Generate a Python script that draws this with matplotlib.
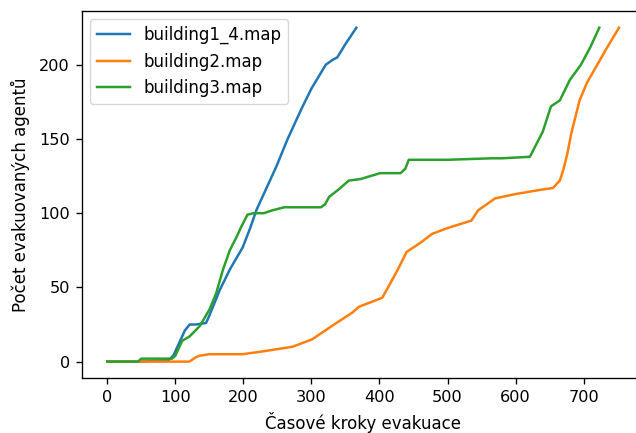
import matplotlib
matplotlib.use("Agg")
import matplotlib.pyplot as plt

# building1_4.map
b1_x = [0, 50, 90, 97, 105, 114, 121, 130, 145, 150, 165, 180, 199, 210, 219,
        233, 248, 265, 285, 300, 321, 330, 338, 350, 366]
b1_y = [0, 0, 1, 4, 12, 21, 25, 25, 26, 31, 48, 62, 77, 90, 102,
        116, 131, 150, 170, 184, 200, 203, 205, 214, 225]

# building2.map
b2_x = [0, 120, 124, 130, 136, 150, 199, 230, 272, 301, 330, 360, 370, 404, 415,
        428, 440, 460, 477, 500, 535, 545, 570, 601, 640, 655, 665, 670, 676, 682,
        694, 705, 720, 735, 752]
b2_y = [0, 0, 1, 3, 4, 5, 5, 7, 10, 15, 24, 33, 37, 43, 52,
        63, 74, 80, 86, 90, 95, 102, 110, 113, 116, 117, 122, 129, 140, 154,
        176, 188, 200, 212, 225]

# building3.map
b3_x = [0, 45, 50, 95, 100, 104, 110, 121, 136, 150, 160, 170, 180, 190, 197,
        206, 215, 230, 243, 260, 282, 314, 320, 326, 340, 355, 372, 401, 431, 438,
        443, 500, 565, 580, 621, 640, 652, 665, 680, 696, 710, 723]
b3_y = [0, 0, 2, 2, 4, 8, 14, 17, 24, 35, 46, 62, 75, 84, 91,
        99, 100, 100, 102, 104, 104, 104, 106, 111, 116, 122, 123, 127, 127, 130,
        136, 136, 137, 137, 138, 155, 172, 176, 190, 200, 212, 225]

# the reference looks like a default figure rendered at ~1.2x
s = 1.2
plt.rcParams.update({
    "font.size": 10 * s,
    "xtick.labelsize": 9.7 * s,
    "ytick.labelsize": 9.7 * s,
    "axes.linewidth": 0.8 * s,
    "xtick.major.size": 3.5 * s,
    "ytick.major.size": 3.5 * s,
    "xtick.major.width": 0.8 * s,
    "ytick.major.width": 0.8 * s,
    "xtick.major.pad": 3.5 * s,
    "ytick.major.pad": 3.5 * s,
    "axes.labelpad": 4.0 * s,
})

fig = plt.figure(figsize=(6.36, 4.33), dpi=100)
ax = fig.add_axes([0.1285, 0.1263, 0.885, 0.8483])

ax.plot(b1_x, b1_y, lw=1.5 * s, label="building1_4.map")
ax.plot(b2_x, b2_y, lw=1.5 * s, label="building2.map")
ax.plot(b3_x, b3_y, lw=1.5 * s, label="building3.map")

ax.set_xlabel("Časové kroky evakuace")
ax.set_ylabel("Počet evakuovaných agentů", labelpad=5.5 * s)
ax.legend(loc="upper left")

fig.savefig("out.png", dpi=100)
